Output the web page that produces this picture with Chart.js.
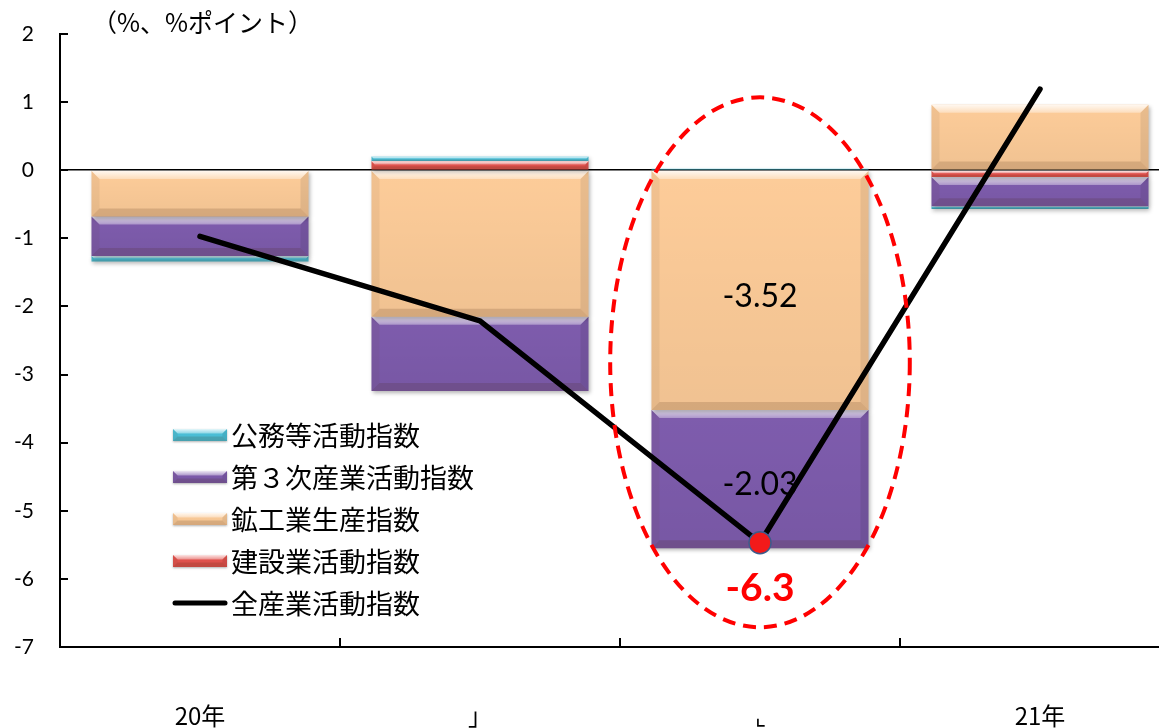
<!DOCTYPE html>
<html>
<head>
<meta charset="utf-8">
<script src="https://cdn.jsdelivr.net/npm/chart.js@4/dist/chart.umd.min.js"></script>
<style>
  html, body { margin: 0; padding: 0; background: #fff; overflow: hidden; }
  #wrap { position: relative; width: 1180px; height: 728px; }
</style>
</head>
<body>
<div id="wrap"><canvas id="c" width="1180" height="728"></canvas></div>
<script>
// ---- data ----
const categories   = ['20年', '」', '⌞', '21年'];
const construction = [-0.01, 0.13, 0.00, -0.10];   // 建設業活動指数 (寄与度)
const mining       = [-0.67, -2.15, -3.52, 0.96];  // 鉱工業生産指数 (寄与度)
const tertiary     = [-0.58, -1.09, -2.03, -0.43]; // 第３次産業活動指数 (寄与度)
const publicSvc    = [-0.08, 0.07, 0.02, -0.04];   // 公務等活動指数 (寄与度)
const allIndustry  = [-1.30, -2.68, -6.3, 1.10];   // 全産業活動指数 (前期比, 右軸)
const leftAxisRange  = [-7, 2];
const rightAxisRange = [-8, 2];
const focusIndex = 2;   // the period called out with the dashed ring

const FONT_CJK = '"Noto Sans CJK JP", "Noto Sans", sans-serif';
const FONT_NUM = 'Lato, "Open Sans", sans-serif';

function poly(ctx, pts, fill) {
  ctx.beginPath();
  ctx.moveTo(pts[0][0], pts[0][1]);
  for (let i = 1; i < pts.length; i++) ctx.lineTo(pts[i][0], pts[i][1]);
  ctx.closePath();
  ctx.fillStyle = fill;
  ctx.fill();
}

// soft bevel shading over a rectangle
function bevelRect(ctx, l, t, r, b) {
  const w = r - l, h = b - t;
  if (h < 0.5) return;
  const bv = Math.min(8, h / 2.6);
  let g = ctx.createLinearGradient(0, t, 0, b);
  g.addColorStop(0, 'rgba(0,0,0,0)');
  g.addColorStop(1, 'rgba(0,0,0,0.05)');
  ctx.fillStyle = g;
  ctx.fillRect(l, t, w, h);
  g = ctx.createLinearGradient(0, t, 0, t + bv);
  g.addColorStop(0, 'rgba(255,255,255,0.85)');
  g.addColorStop(1, 'rgba(255,255,255,0.35)');
  poly(ctx, [[l, t], [r, t], [r - bv, t + bv], [l + bv, t + bv]], g);
  poly(ctx, [[l, b], [r, b], [r - bv, b - bv], [l + bv, b - bv]], 'rgba(70,40,10,0.16)');
  poly(ctx, [[l, t], [l + bv, t + bv], [l + bv, b - bv], [l, b]], 'rgba(90,60,30,0.07)');
  poly(ctx, [[r, t], [r - bv, t + bv], [r - bv, b - bv], [r, b]], 'rgba(0,0,0,0.08)');
}

const bevelPlugin = {
  id: 'bevel',
  beforeDatasetDraw(chart, args) {
    if (chart.data.datasets[args.index].type === 'line') return;
    const ctx = chart.ctx;
    ctx.save();
    ctx.shadowColor = 'rgba(0,0,0,0.3)';
    ctx.shadowBlur = 4;
    ctx.shadowOffsetX = 1;
    ctx.shadowOffsetY = 2;
  },
  afterDatasetDraw(chart, args) {
    if (chart.data.datasets[args.index].type === 'line') return;
    const ctx = chart.ctx;
    ctx.restore();
    ctx.save();
    args.meta.data.forEach(el => {
      const p = el.getProps(['x', 'y', 'base', 'width'], true);
      const l = p.x - p.width / 2, r = p.x + p.width / 2;
      bevelRect(ctx, l, Math.min(p.y, p.base), r, Math.max(p.y, p.base));
    });
    ctx.restore();
  }
};

const decorPlugin = {
  id: 'decor',
  afterDraw(chart) {
    const ctx = chart.ctx;
    const xs = chart.scales.x, ys = chart.scales.y;
    const area = chart.chartArea;
    ctx.save();

    // inward tick marks
    ctx.strokeStyle = '#000';
    ctx.lineWidth = 2;
    ys.ticks.forEach(t => {
      const py = Math.round(ys.getPixelForValue(t.value));
      ctx.beginPath(); ctx.moveTo(area.left, py); ctx.lineTo(area.left + 8, py); ctx.stroke();
    });
    for (let i = 0; i < categories.length - 1; i++) {
      const px = Math.round((xs.getPixelForValue(i) + xs.getPixelForValue(i + 1)) / 2);
      ctx.beginPath(); ctx.moveTo(px, area.bottom); ctx.lineTo(px, area.bottom - 9); ctx.stroke();
    }

    // unit caption
    ctx.fillStyle = '#000';
    ctx.font = '25px ' + FONT_CJK;
    ctx.textAlign = 'left';
    ctx.textBaseline = 'middle';
    ctx.fillText('（%、%ポイント）', area.left + 32, 22);

    // segment values for the called-out period
    ctx.font = '32px ' + FONT_NUM;
    ctx.textAlign = 'center';
    [1, 2].forEach(di => {
      const el = chart.getDatasetMeta(di).data[focusIndex];
      const p = el.getProps(['x', 'y', 'base'], true);
      const v = chart.data.datasets[di].data[focusIndex];
      ctx.fillText(v.toFixed(2), p.x, (p.y + p.base) / 2 + 6);
    });

    // total value under the marker
    const pt = chart.getDatasetMeta(4).data[focusIndex];
    ctx.fillStyle = '#FF0000';
    ctx.font = 'bold 39px ' + FONT_NUM;
    ctx.fillText(allIndustry[focusIndex].toFixed(1), pt.x, pt.y + 46);

    // dashed ring around the period
    const cw = xs.getPixelForValue(1) - xs.getPixelForValue(0);
    const top = ys.getPixelForValue(1.07), bottom = ys.getPixelForValue(-6.71);
    ctx.beginPath();
    ctx.ellipse(xs.getPixelForValue(focusIndex), (top + bottom) / 2, cw * 0.535, (bottom - top) / 2, 0, 0, Math.PI * 2);
    ctx.setLineDash([13, 8]);
    ctx.lineWidth = 4;
    ctx.strokeStyle = '#FF0000';
    ctx.stroke();
    ctx.setLineDash([]);

    // legend
    const ds = chart.data.datasets;
    const items = [ds[3], ds[2], ds[1], ds[0], ds[4]];
    const lx = area.left + 113;
    let ly = 435;
    ctx.textAlign = 'left';
    ctx.textBaseline = 'middle';
    ctx.font = '27px ' + FONT_CJK;
    items.forEach(d => {
      if (d.type === 'line') {
        ctx.strokeStyle = '#000';
        ctx.lineWidth = 5;
        ctx.lineCap = 'round';
        ctx.beginPath(); ctx.moveTo(lx + 2, ly); ctx.lineTo(lx + 52, ly); ctx.stroke();
      } else {
        ctx.save();
        ctx.shadowColor = 'rgba(0,0,0,0.3)';
        ctx.shadowBlur = 2; ctx.shadowOffsetY = 1;
        ctx.fillStyle = d.backgroundColor;
        ctx.fillRect(lx, ly - 6, 54, 12);
        ctx.restore();
        bevelRect(ctx, lx, ly - 6, lx + 54, ly + 6);
      }
      ctx.fillStyle = '#000';
      ctx.fillText(d.label, lx + 58, ly + 1);
      ly += 42;
    });
    ctx.restore();
  }
};

new Chart(document.getElementById('c'), {
  data: {
    labels: categories,
    datasets: [
      { type: 'bar', label: '建設業活動指数',     data: construction, backgroundColor: '#E4534E', stack: 's', order: 1 },
      { type: 'bar', label: '鉱工業生産指数',     data: mining,       backgroundColor: '#FDCC99', stack: 's', order: 1 },
      { type: 'bar', label: '第３次産業活動指数', data: tertiary,     backgroundColor: '#7E5CAD', stack: 's', order: 1 },
      { type: 'bar', label: '公務等活動指数',     data: publicSvc,    backgroundColor: '#4CC2DA', stack: 's', order: 1 },
      {
        type: 'line', label: '全産業活動指数', data: allIndustry, yAxisID: 'y2', order: 0,
        borderColor: '#000', borderWidth: 5.5, borderCapStyle: 'round', tension: 0,
        pointRadius: ctx => ctx.dataIndex === focusIndex ? 11 : 0,
        pointHoverRadius: 0,
        pointBackgroundColor: '#F21A1A',
        pointBorderColor: '#3C5C8C',
        pointBorderWidth: 1.5
      }
    ]
  },
  options: {
    responsive: false,
    animation: false,
    events: [],
    layout: { padding: { top: 34, left: 0, right: 0, bottom: 0 } },
    plugins: { legend: { display: false }, tooltip: { enabled: false } },
    datasets: { bar: { categoryPercentage: 1, barPercentage: 0.775, borderWidth: 0 } },
    scales: {
      x: {
        stacked: true,
        grid: { display: false, drawTicks: false },
        border: { display: true, color: '#000', width: 2 },
        ticks: { color: '#000', padding: 54, maxRotation: 0, font: { family: FONT_CJK, size: 24 } },
        afterFit: s => { s.height = 81; }
      },
      y: {
        stacked: true,
        min: leftAxisRange[0], max: leftAxisRange[1],
        grid: {
          drawTicks: true,
          tickLength: 18,
          tickColor: 'rgba(0,0,0,0)',
          color: c => (c.tick && c.tick.value === 0) ? '#000' : 'rgba(0,0,0,0)',
          lineWidth: 1.6
        },
        border: { display: true, color: '#000', width: 2 },
        ticks: { stepSize: 1, color: '#000', padding: 8, font: { family: FONT_NUM, size: 21 } },
        afterFit: s => { s.width = 60; }
      },
      y2: {
        display: false,
        position: 'right',
        min: rightAxisRange[0], max: rightAxisRange[1]
      }
    }
  },
  plugins: [bevelPlugin, decorPlugin]
});
</script>
</body>
</html>
